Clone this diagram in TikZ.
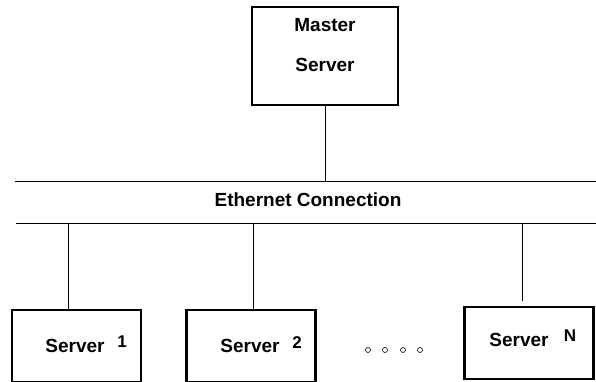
\documentclass[tikz,border=0pt]{standalone}
\usepackage{fontspec}
\setmainfont{Liberation Sans}
\begin{document}
\begin{tikzpicture}[x=1pt,y=-1pt,
	box/.style={draw,line width=2.7pt,inner sep=0pt,minimum height=72pt,minimum width=129pt},
	lbl/.style={font=\fontsize{19}{23}\selectfont\bfseries,inner sep=0pt,align=center},
	idx/.style={font=\fontsize{17}{17}\selectfont\bfseries,inner sep=0pt},
	link/.style={line width=0.7pt},
	dot/.style={draw,circle,line width=0.6pt,minimum size=5pt,inner sep=0pt}]
	\useasboundingbox (0,0) rectangle (596,381);
	
	\node[box,minimum width=146pt,minimum height=98pt] (master) at (325,56) {};
	\node[lbl] (mtxt) at (325,45) {Master\\[17pt]Server};
	
	\coordinate (busaw) at (15,181);
	\coordinate (busae) at (596,181);
	\coordinate (busbw) at (16,223);
	\coordinate (busbe) at (596,223);
	\node[lbl] (eth) at (308,200) {Ethernet Connection};
	
	\node[box] (s1) at (76.5,346) {};
	\node[box] (s2) at (251,346) {};
	\node[box] (sn) at (529,343) {};
	
	\node[lbl,anchor=base] (s1txt) at (75,352) {Server};
	\node[idx,anchor=north] (s1idx) at (122,336) {1};
	\node[lbl,anchor=base] (s2txt) at (250,352) {Server};
	\node[idx,anchor=north] (s2idx) at (297,336) {2};
	\node[lbl,anchor=base] (sntxt) at (519,346) {Server};
	\node[idx,anchor=north] (snidx) at (570,330) {N};
	
	\node[dot] (d1) at (368,350) {};
	\node[dot] (d2) at (385,350) {};
	\node[dot] (d3) at (403,350) {};
	\node[dot] (d4) at (420,350) {};
	
	\coordinate (tapm) at (325,181);
	\coordinate (tap1) at (68,223);
	\coordinate (tap2) at (253,223);
	\coordinate (tapn) at (522,223);
	
	\draw[link] (busaw)--(busae);
	\draw[link] (busbw)--(busbe);
	\draw[link] (master.south)--(tapm);
	\draw[link] (tap1)--(tap1 |- s1.north);
	\draw[link] (tap2)--(tap2 |- s2.north);
	\draw[link,shorten >=5pt] (tapn)--(tapn |- sn.north);
\end{tikzpicture}
\end{document}
